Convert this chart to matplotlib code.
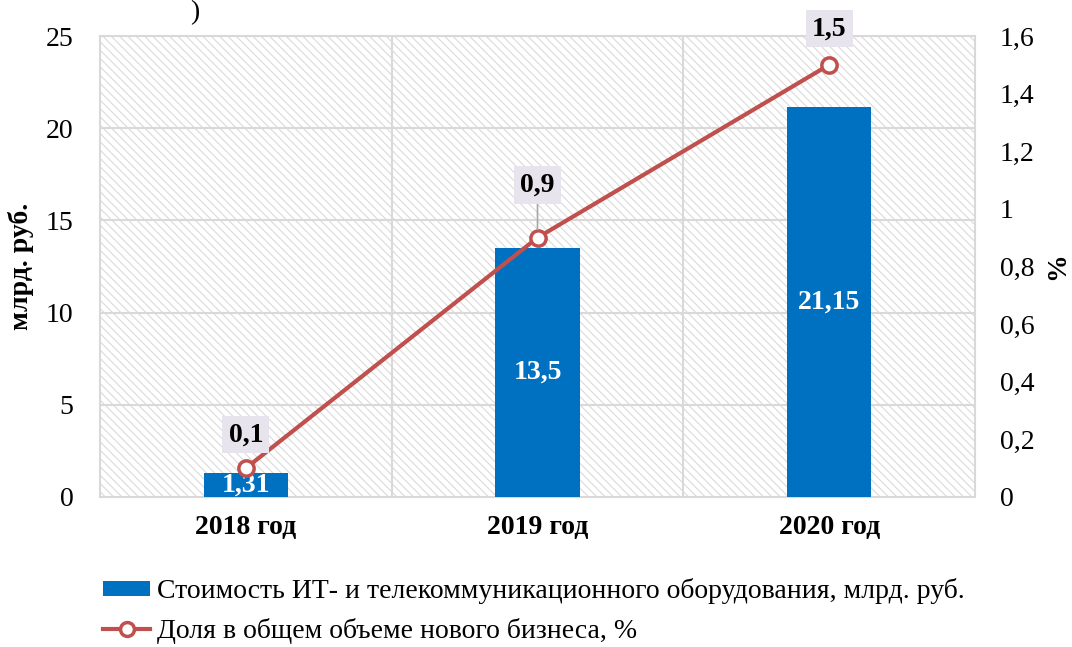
import matplotlib
matplotlib.use("Agg")
import matplotlib.pyplot as plt
import numpy as np
from matplotlib.patches import Patch
from matplotlib.lines import Line2D

categories = ["2018 год", "2019 год", "2020 год"]
cost_values = [1.31, 13.5, 21.15]
cost_labels = ["1,31", "13,5", "21,15"]
share_values = [0.1, 0.9, 1.5]
share_labels = ["0,1", "0,9", "1,5"]
left_ticks = [0, 5, 10, 15, 20, 25]
right_ticks = [0, 0.2, 0.4, 0.6, 0.8, 1.0, 1.2, 1.4, 1.6]
right_tick_labels = ["0", "0,2", "0,4", "0,6", "0,8", "1", "1,2", "1,4", "1,6"]
legend_bar = "Стоимость ИТ- и телекоммуникационного оборудования, млрд. руб."
legend_line = "Доля в общем объеме нового бизнеса, %"

plt.rcParams['font.family'] = ['Liberation Serif', 'DejaVu Serif']
plt.rcParams['hatch.linewidth'] = 0.8

W, H = 1072, 647
fig = plt.figure(figsize=(W / 100, H / 100), dpi=100)
x0, x1, y0, y1 = 100, 975, 36, 497
ax = fig.add_axes([x0 / W, 1 - y1 / H, (x1 - x0) / W, (y1 - y0) / H])

bar_color = "#0070C0"
line_color = "#C0504D"
grid_color = "#D9D9D9"
FS = 20

ax.set_facecolor("white")
ax.patch.set_hatch("\\\\\\\\")
ax.patch.set_edgecolor("#DADADA")

x = np.arange(len(categories))
ax.bar(x, cost_values, width=0.29, color=bar_color, zorder=3)
ax.set_xlim(-0.5, 2.5)
ax.set_ylim(0, 25)
ax.set_yticks(left_ticks)
ax.set_yticklabels([str(t) for t in left_ticks], fontsize=FS)
ax.set_xticks(x)
ax.set_xticklabels(categories, fontsize=FS, fontweight="bold")
ax.tick_params(axis="x", length=0, pad=13)
ax.tick_params(axis="y", length=0, pad=19)
for t in left_ticks[1:]:
    ax.axhline(t, color=grid_color, lw=1.5, zorder=1)
for xv in [0.5, 1.5]:
    ax.axvline(xv, color=grid_color, lw=1.5, zorder=1)
for s in ax.spines.values():
    s.set_color(grid_color)
    s.set_linewidth(1.5)
ax.set_ylabel("млрд. руб.", fontsize=FS, fontweight="bold")
ax.yaxis.set_label_coords((34 - x0) / (x1 - x0), 0.5)

for xi, v, lab in zip(x, cost_values, cost_labels):
    ax.text(xi, v / 2, lab, ha="center", va="center", color="white",
            fontsize=FS, fontweight="bold", zorder=5)

ax2 = ax.twinx()
ax2.set_ylim(0, 1.6)
ax2.set_yticks(right_ticks)
ax2.set_yticklabels(right_tick_labels, fontsize=FS)
ax2.tick_params(axis="y", length=0, pad=18)
for s in ax2.spines.values():
    s.set_visible(False)
ax2.set_ylabel("%", fontsize=FS, fontweight="bold")
ax2.yaxis.set_label_coords((1045 - x0) / (x1 - x0), 0.5)
ax2.plot(x, share_values, color=line_color, lw=3, marker="o", markersize=11,
         markerfacecolor="white", markeredgecolor=line_color, markeredgewidth=2.5,
         zorder=4)

offsets = [24, 38, 26]
for xi, v, lab, off in zip(x, share_values, share_labels, offsets):
    ax2.annotate(lab, xy=(xi, v), xytext=(0, off), textcoords="offset points",
                 ha="center", va="center", fontsize=FS, fontweight="bold",
                 bbox=dict(boxstyle="square,pad=0.22", fc="#E8E4EE", ec="none"),
                 arrowprops=(dict(arrowstyle="-", color="#A6A6A6", lw=1.2,
                                  shrinkA=0, shrinkB=6) if off > 30 else None),
                 zorder=6, annotation_clip=False)

handles = [Patch(facecolor=bar_color, edgecolor="none"),
           Line2D([0], [0], color=line_color, lw=3, marker="o", markersize=10,
                  markerfacecolor="white", markeredgecolor=line_color,
                  markeredgewidth=2.5)]
fig.legend(handles, [legend_bar, legend_line], loc="upper left",
           bbox_to_anchor=(103 / W, 1 - 578 / H), frameon=False, fontsize=FS,
           handlelength=1.7, handleheight=0.45, handletextpad=0.25,
           labelspacing=0.5, borderpad=0, borderaxespad=0)

fig.text(190 / W, 1 - 13 / H, ")", fontsize=FS, va="center", ha="left")

fig.savefig("out.png", dpi=100)
